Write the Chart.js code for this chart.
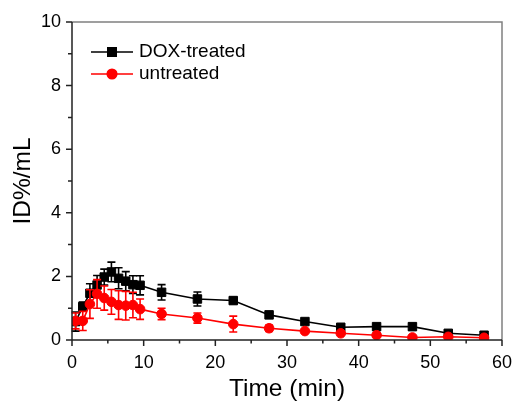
<!DOCTYPE html>
<html>
<head>
<meta charset="utf-8">
<script src="https://cdn.jsdelivr.net/npm/chart.js@4.4.0/dist/chart.umd.min.js"></script>
<style>
html,body{margin:0;padding:0;background:#fff}
</style>
</head>
<body>
<canvas id="c" width="515" height="401"></canvas>
<script>
// data
const times=[0.5,1.5,2.5,3.5,4.5,5.5,6.5,7.5,8.5,9.5,12.5,17.5,22.5,27.5,32.5,37.5,42.5,47.5,52.5,57.5];
const doxVals=[0.58,1.05,1.47,1.73,1.98,2.14,1.94,1.85,1.74,1.72,1.5,1.29,1.24,0.79,0.58,0.40,0.42,0.42,0.21,0.15];
const doxErr=[0.3,0.14,0.3,0.3,0.25,0.31,0.33,0.3,0.28,0.3,0.24,0.22,0.1,0.08,0.05,0.04,0.07,0.1,0.06,0.05];
const untVals=[0.6,0.6,1.13,1.45,1.32,1.2,1.1,1.08,1.1,0.97,0.82,0.69,0.5,0.37,0.28,0.21,0.15,0.08,0.1,0.07];
const untErr=[0.25,0.3,0.45,0.45,0.38,0.39,0.45,0.45,0.4,0.32,0.18,0.16,0.25,0.1,0.05,0.04,0.05,0.04,0.03,0.03];
const seriesNames=['DOX-treated','untreated'];
const xTicks=[0,10,20,30,40,50,60];
const yTicks=[0,2,4,6,8,10];

const FONT='"Liberation Sans", Arial, sans-serif';

const errorBars={
    id:'errorBars',
    beforeDatasetDraw(chart,args){
        const ds=chart.data.datasets[args.index];
        if(!ds.errs)return;
        const ctx=chart.ctx, y=chart.scales.y;
        const pts=chart.getDatasetMeta(args.index).data;
        ctx.save();
        ctx.strokeStyle=ds.borderColor;
        ctx.lineWidth=1.6;
        pts.forEach((p,i)=>{
            const v=ds.data[i].y, e=ds.errs[i];
            const y1=y.getPixelForValue(v+e), y2=y.getPixelForValue(v-e);
            ctx.beginPath();
            ctx.moveTo(p.x,y1);ctx.lineTo(p.x,y2);
            ctx.moveTo(p.x-4,y1);ctx.lineTo(p.x+4,y1);
            ctx.moveTo(p.x-4,y2);ctx.lineTo(p.x+4,y2);
            ctx.stroke();
        });
        ctx.restore();
    }
};

const frame={
    id:'frame',
    afterDraw(chart){
        const {ctx,chartArea:a,scales:{x,y}}=chart;
        ctx.save();
        ctx.lineWidth=1.5;
        ctx.strokeStyle='#808080';
        ctx.beginPath();
        ctx.moveTo(a.left,a.top);ctx.lineTo(a.right,a.top);ctx.lineTo(a.right,a.bottom);
        ctx.stroke();
        ctx.strokeStyle='#222';
        ctx.beginPath();
        ctx.moveTo(a.left,a.top);ctx.lineTo(a.left,a.bottom);ctx.lineTo(a.right,a.bottom);
        for(let v=0;v<=60;v+=5){
            const px=x.getPixelForValue(v);
            ctx.moveTo(px,a.bottom);ctx.lineTo(px,a.bottom+(v%10===0?6:3.5));
        }
        for(let v=0;v<=10;v+=1){
            const py=y.getPixelForValue(v);
            ctx.moveTo(a.left,py);ctx.lineTo(a.left-(v%2===0?6:4),py);
        }
        ctx.stroke();
        // legend
        const ds=chart.data.datasets;
        const lx=a.left+19, ly=[a.top+30,a.top+52];
        [0,1].forEach(k=>{
            const d=ds.find(s=>s.label===seriesNames[k]);
            ctx.strokeStyle=d.borderColor;ctx.fillStyle=d.backgroundColor;ctx.lineWidth=1.5;
            ctx.beginPath();ctx.moveTo(lx,ly[k]);ctx.lineTo(lx+42,ly[k]);ctx.stroke();
            Chart.helpers.drawPoint(ctx,{pointStyle:d.pointStyle,radius:d.pointRadius,borderWidth:1},lx+21,ly[k]);
            ctx.fill();
            ctx.fillStyle='#000';
            ctx.font='19px '+FONT;
            ctx.textBaseline='middle';
            ctx.fillText(seriesNames[k],lx+48,ly[k]);
        });
        ctx.restore();
    }
};

new Chart(document.getElementById('c'),{
    type:'line',
    data:{datasets:[
        {label:seriesNames[0],data:times.map((t,i)=>({x:t,y:doxVals[i]})),errs:doxErr,
         borderColor:'#000',backgroundColor:'#000',borderWidth:1.6,pointStyle:'rect',pointRadius:6,pointBorderWidth:1,order:2},
        {label:seriesNames[1],data:times.map((t,i)=>({x:t,y:untVals[i]})),errs:untErr,
         borderColor:'#ff0000',backgroundColor:'#ff0000',borderWidth:1.6,pointStyle:'circle',pointRadius:4.8,pointBorderWidth:1,order:1}
    ]},
    options:{
        responsive:false,animation:false,devicePixelRatio:1,
        layout:{padding:{top:22,right:13,left:0,bottom:0}},
        plugins:{legend:{display:false},tooltip:{enabled:false}},
        scales:{
            x:{type:'linear',min:0,max:60,
               afterFit:s=>{s.height=61;s.paddingLeft=0;s.paddingRight=0;},
               afterBuildTicks:s=>{s.ticks=xTicks.map(v=>({value:v}));},
               grid:{display:false,drawTicks:false},border:{display:false},
               ticks:{padding:12,color:'#000',maxRotation:0,font:{family:FONT,size:18}},
               title:{display:true,text:'Time (min)',color:'#000',font:{family:FONT,size:24.5,lineHeight:1},padding:0}},
            y:{min:0,max:10,
               afterFit:s=>{s.width=72;s.paddingTop=0;s.paddingBottom=0;},
               afterBuildTicks:s=>{s.ticks=yTicks.map(v=>({value:v}));},
               grid:{display:false,drawTicks:false},border:{display:false},
               ticks:{padding:11,color:'#000',font:{family:FONT,size:18}},
               title:{display:true,text:'ID%/mL',color:'#000',font:{family:FONT,size:24.5,lineHeight:1},padding:{top:11}}}
        }
    },
    plugins:[errorBars,frame]
});
</script>
</body>
</html>
